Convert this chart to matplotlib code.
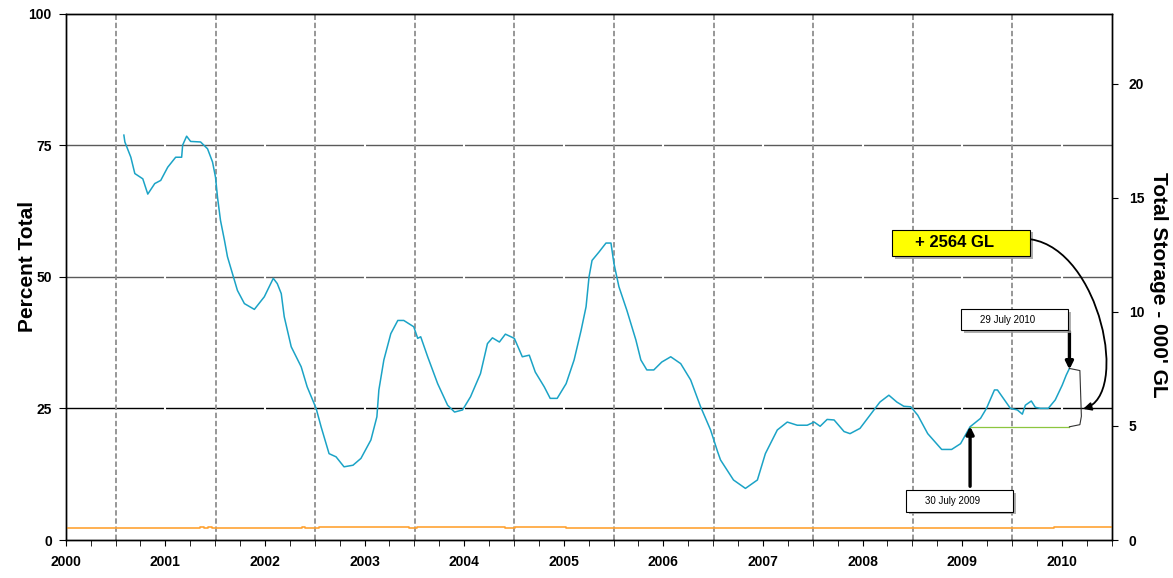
import numpy as np
import matplotlib.pyplot as plt
from matplotlib.patches import Rectangle, FancyArrowPatch
from matplotlib.path import Path
import matplotlib.patheffects as pe

plt.rcParams['font.family'] = ['Liberation Sans', 'DejaVu Sans']

# Total storage, percent of capacity (x in decimal years)
storage_years = [
    2001.08, 2001.09, 2001.15, 2001.19, 2001.27, 2001.32, 2001.39, 2001.45,
    2001.52, 2001.60, 2001.66, 2001.67, 2001.71, 2001.75, 2001.85, 2001.92,
    2001.97, 2002.00, 2002.02, 2002.05, 2002.09, 2002.12, 2002.17, 2002.22,
    2002.29, 2002.39, 2002.49, 2002.58, 2002.62, 2002.66, 2002.69, 2002.76,
    2002.86, 2002.92, 2003.01, 2003.06, 2003.14, 2003.21, 2003.29, 2003.38,
    2003.46, 2003.56, 2003.62, 2003.64, 2003.69, 2003.76, 2003.83, 2003.89,
    2003.99, 2004.03, 2004.06, 2004.13, 2004.23, 2004.33, 2004.40, 2004.48,
    2004.56, 2004.66, 2004.73, 2004.78, 2004.85, 2004.91, 2005.00, 2005.08,
    2005.15, 2005.21, 2005.30, 2005.36, 2005.43, 2005.52, 2005.60, 2005.67,
    2005.72, 2005.75, 2005.78, 2005.85, 2005.92, 2005.97, 2006.00, 2006.05,
    2006.13, 2006.22, 2006.27, 2006.33, 2006.40, 2006.48, 2006.57, 2006.67,
    2006.77, 2006.87, 2006.97, 2007.04, 2007.07, 2007.20, 2007.32, 2007.44,
    2007.52, 2007.64, 2007.74, 2007.84, 2007.94, 2008.01, 2008.07, 2008.14,
    2008.21, 2008.31, 2008.37, 2008.47, 2008.57, 2008.67, 2008.76, 2008.84,
    2008.91, 2008.98, 2009.05, 2009.15, 2009.29, 2009.39, 2009.48, 2009.575,
    2009.68, 2009.74, 2009.82, 2009.85, 2009.91, 2009.98, 2010.05, 2010.10,
    2010.13, 2010.19, 2010.23, 2010.28, 2010.36, 2010.43, 2010.50, 2010.54,
    2010.573,
]
storage_pct = [
    76.9, 75.6, 72.7, 69.6, 68.6, 65.7, 67.7, 68.3,
    70.8, 72.7, 72.7, 75.0, 76.7, 75.7, 75.6, 74.3,
    71.8, 68.9, 65.1, 60.7, 56.9, 53.8, 50.6, 47.4,
    44.9, 43.8, 46.2, 49.7, 48.7, 46.8, 42.4, 36.7,
    32.9, 29.1, 25.0, 21.5, 16.4, 15.8, 13.9, 14.2,
    15.5, 19.0, 23.4, 28.5, 34.2, 39.2, 41.7, 41.7,
    40.5, 38.3, 38.6, 34.8, 29.7, 25.6, 24.3, 24.7,
    27.2, 31.6, 37.3, 38.4, 37.6, 39.1, 38.3, 34.8,
    35.1, 31.9, 29.1, 26.9, 26.9, 29.7, 34.2, 39.8,
    44.3, 50.0, 53.1, 54.7, 56.4, 56.4, 52.5, 48.1,
    43.6, 38.0, 34.2, 32.3, 32.3, 33.8, 34.8, 33.5,
    30.4, 25.3, 20.9, 16.8, 15.2, 11.4, 9.8, 11.4,
    16.4, 20.9, 22.4, 21.8, 21.8, 22.4, 21.6, 22.9,
    22.8, 20.6, 20.2, 21.2, 23.7, 26.2, 27.5, 26.2,
    25.4, 25.3, 23.7, 20.2, 17.2, 17.2, 18.3, 21.5,
    23.1, 25.0, 28.5, 28.5, 26.9, 25.0, 24.7, 23.9,
    25.6, 26.4, 25.2, 25.0, 25.0, 26.6, 29.4, 31.3,
    32.6,
]

# Lower series, drawn as steps
other_years = [2000.496, 2001.84, 2001.88, 2001.92, 2001.96, 2002.87, 2002.90,
               2003.04, 2003.94, 2004.02, 2004.91, 2005.01, 2005.52, 2005.62,
               2010.42, 2011.0]
other_pct = [2.2, 2.5, 2.2, 2.5, 2.2, 2.5, 2.2,
             2.5, 2.2, 2.5, 2.2, 2.5, 2.2, 2.2,
             2.5, 2.5]

year_labels = list(range(2000, 2011))
capacity = 23.07  # '000 GL at 100 %

date_2009 = 2009 + 210 / 365   # 30 July 2009
date_2010 = 2010 + 209 / 365   # 29 July 2010
gain_text = "+ 2564 GL"

fig = plt.figure(figsize=(11.73, 5.78), dpi=100)
ax = fig.add_axes([65.7 / 1173, 38 / 578, 1046.3 / 1173, 526.5 / 578])
ax.set_xlim(2000.496, 2011.0)
ax.set_ylim(0, 100)

# horizontal grid, white breaks at each year
ax.axhline(25, color='black', lw=1.0, zorder=1)
for lvl in (50, 75):
    ax.axhline(lvl, color='#5a5a5a', lw=1.0, zorder=1)
year_ticks = [y + 0.496 for y in year_labels]
for xt in year_ticks[1:]:
    ax.axvline(xt, color='white', lw=1.5, zorder=1.5)

# dashed lines at the turn of each calendar year
for y in range(2001, 2011):
    ax.axvline(y, color='#8f8f8f', lw=1.3, dashes=(3, 1.5), zorder=2)

ax.plot(storage_years, storage_pct, color='#1ba3c6', lw=1.1, zorder=4)
ax.step(other_years, other_pct, where='post', color='#ffa333', lw=1.2, zorder=3)

level_2009 = np.interp(date_2009, storage_years, storage_pct)
level_2010 = np.interp(date_2010, storage_years, storage_pct)
ax.plot([date_2009, date_2010], [level_2009, level_2009], color='#8cc63f', lw=0.9, zorder=3)

# bracket spanning the rise
xb = date_2010 + 0.105
ax.plot([date_2010, xb, xb + 0.015, xb, date_2010],
        [level_2010, level_2010 - 0.4, level_2009 + 2.0, level_2009 + 0.4, level_2009],
        color='#333333', lw=0.8, zorder=4, clip_on=False)

shadow = [pe.SimplePatchShadow(offset=(2, -2), shadow_rgbFace='#9a9a9a', alpha=0.8), pe.Normal()]


def label_box(x0, x1, y0, y1, text, face, size, weight):
    box = Rectangle((x0, y0), x1 - x0, y1 - y0, facecolor=face, edgecolor='black',
                    lw=0.8, zorder=6, clip_on=False)
    box.set_path_effects(shadow)
    ax.add_patch(box)
    ax.text((x0 + x1) / 2 - 0.07, (y0 + y1) / 2, text, ha='center', va='center',
            fontsize=size, fontweight=weight, zorder=7)


label_box(2009.485, 2010.562, 39.8, 43.8, "29 July 2010", 'white', 7, 'normal')
label_box(2008.93, 2010.004, 5.4, 9.5, "30 July 2009", 'white', 7, 'normal')
label_box(2008.795, 2010.178, 53.9, 58.96, gain_text, '#ffff00', 12, 'bold')

arrow_kw = dict(arrowstyle='-|>', color='black', lw=2.4, mutation_scale=11,
                shrinkA=0, shrinkB=0)
ax.annotate('', xy=(date_2010, level_2010 - 0.2), xytext=(date_2010, 39.6),
            arrowprops=arrow_kw, zorder=5)
ax.annotate('', xy=(date_2009, level_2009 + 0.1), xytext=(date_2009, 10.2),
            arrowprops=arrow_kw, zorder=5)

# curved arrow from the gain box to the bracket
curve = Path([(2010.188, 57.1), (2010.881, 55.0), (2011.183, 27.5), (2010.71, 24.9)],
             [Path.MOVETO, Path.CURVE4, Path.CURVE4, Path.CURVE4])
ax.add_patch(FancyArrowPatch(path=curve, arrowstyle='-|>', mutation_scale=12,
                             color='black', lw=1.3, transform=ax.transData,
                             zorder=6, clip_on=False))

# axes, ticks and labels
ax.set_xticks(year_ticks)
ax.set_xticklabels([str(y) for y in year_labels])
ax.set_xticks([y + q for y in year_ticks for q in (0.25, 0.5, 0.75) if y + q < 2011.0],
              minor=True)
ax.tick_params(axis='x', which='major', direction='out', length=4, pad=7, labelsize=10)
ax.tick_params(axis='x', which='minor', direction='out', length=4)
ax.set_yticks([0, 25, 50, 75, 100])
ax.tick_params(axis='y', direction='out', length=5, pad=5, labelsize=10)
for lab in ax.get_xticklabels() + ax.get_yticklabels():
    lab.set_fontweight('bold')
ax.set_ylabel('Percent Total', fontsize=15, fontweight='bold', va='center')
ax.yaxis.set_label_coords(-0.0365, 0.52)

ax2 = ax.twinx()
ax2.set_ylim(0, capacity)
ax2.set_yticks([0, 5, 10, 15, 20])
ax2.tick_params(axis='y', direction='out', length=4, pad=8, labelsize=10)
for lab in ax2.get_yticklabels():
    lab.set_fontweight('bold')
ax2.set_ylabel("Total Storage - 000' GL", fontsize=15, fontweight='bold',
               rotation=270, va='center')
ax2.yaxis.set_label_coords(1.0445, 0.484)

for a in (ax, ax2):
    for sp in a.spines.values():
        sp.set_color('black')
        sp.set_linewidth(1.0)

fig.savefig('out.png', dpi=100)
